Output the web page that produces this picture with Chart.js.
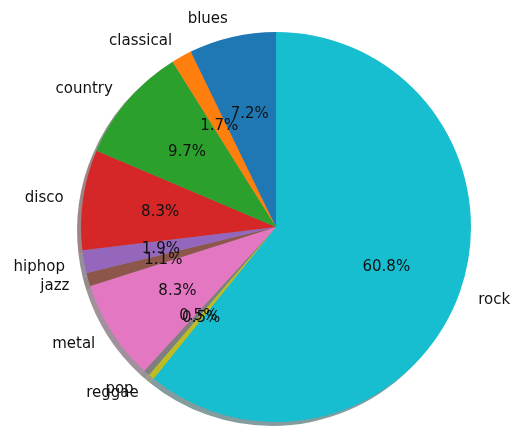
<!DOCTYPE html>
<html>
<head>
<meta charset="utf-8">
<script src="https://cdn.jsdelivr.net/npm/chart.js@4.4.1/dist/chart.umd.min.js"></script>
<style>
  html, body { margin: 0; padding: 0; background: #fff; }
  #wrap { width: 510px; height: 428px; }
</style>
</head>
<body>
<div id="wrap"><canvas id="pie" width="510" height="428"></canvas></div>
<script>
const genres = ["blues", "classical", "country", "disco", "hiphop", "jazz", "metal", "pop", "reggae", "rock"];
const shares = [7.2, 1.7, 9.7, 8.3, 1.9, 1.1, 8.3, 0.5, 0.5, 60.8];
const colors = ["#1f77b4", "#ff7f0e", "#2ca02c", "#d62728", "#9467bd",
                "#8c564b", "#e377c2", "#7f7f7f", "#bcbd22", "#17becf"];

// matplotlib goes counterclockwise from the top, chart.js clockwise -> reverse
const labels = genres.slice().reverse();
const values = shares.slice().reverse();
const fills = colors.slice().reverse();

const FONT = '15px "DejaVu Sans"';

function shadowOf(hex) {
  const n = parseInt(hex.slice(1), 16);
  const r = (n >> 16) & 255, g = (n >> 8) & 255, b = n & 255;
  return `rgba(${Math.round(r*0.3)},${Math.round(g*0.3)},${Math.round(b*0.3)},0.5)`;
}

const pieExtras = {
  id: "pieExtras",
  beforeDatasetsDraw(chart) {
    const ctx = chart.ctx;
    const arcs = chart.getDatasetMeta(0).data;
    ctx.save();
    arcs.forEach((a, i) => {
      const off = a.outerRadius * 0.02;
      ctx.beginPath();
      ctx.moveTo(a.x - off, a.y + off);
      ctx.arc(a.x - off, a.y + off, a.outerRadius, a.startAngle, a.endAngle);
      ctx.closePath();
      ctx.fillStyle = shadowOf(fills[i]);
      ctx.fill();
    });
    ctx.restore();
  },
  afterDatasetsDraw(chart) {
    const ctx = chart.ctx;
    const arcs = chart.getDatasetMeta(0).data;
    ctx.save();
    ctx.font = FONT;
    ctx.textBaseline = "middle";
    const dy = 1.5;
    // draw in matplotlib order (reverse of chart order)
    for (let i = arcs.length - 1; i >= 0; i--) {
      const a = arcs[i];
      const mid = (a.startAngle + a.endAngle) / 2;
      const cx = Math.cos(mid), cy = Math.sin(mid);
      const r = a.outerRadius;
      ctx.fillStyle = "#111";
      ctx.textAlign = cx >= 0 ? "left" : "right";
      ctx.fillText(labels[i], a.x + 1.1 * r * cx, a.y + 1.1 * r * cy + dy);
      ctx.textAlign = "center";
      ctx.fillText(values[i].toFixed(1) + "%", a.x + 0.6 * r * cx, a.y + 0.6 * r * cy + dy);
    }
    ctx.restore();
  }
};

new Chart(document.getElementById("pie"), {
  type: "pie",
  data: {
    labels: labels,
    datasets: [{
      data: values,
      backgroundColor: fills,
      borderWidth: 0
    }]
  },
  options: {
    responsive: false,
    animation: false,
    rotation: 0,
    layout: { padding: { left: 81, right: 39, top: 32, bottom: 6 } },
    plugins: {
      legend: { display: false },
      tooltip: { enabled: false }
    },
    events: []
  },
  plugins: [pieExtras]
});
</script>
</body>
</html>
